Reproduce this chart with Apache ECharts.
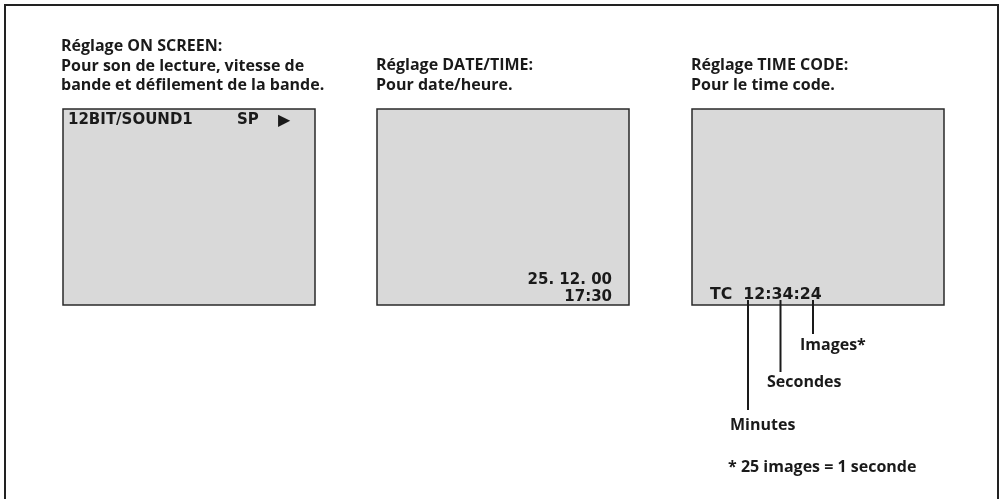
<!DOCTYPE html>
<html>
<head>
<meta charset="utf-8">
<script src="https://cdn.jsdelivr.net/npm/echarts@6/dist/echarts.min.js"></script>
<style>
  html, body { margin: 0; padding: 0; background: #fff; }
  #chart { width: 1003px; height: 499px; }
</style>
</head>
<body>
<div id="chart"></div>
<script>
// textes du schéma
const titleOnScreen = ['Réglage ON SCREEN:', 'Pour son de lecture, vitesse de', 'bande et défilement de la bande.']
const titleDateTime = ['Réglage DATE/TIME:', 'Pour date/heure.']
const titleTimeCode = ['Réglage TIME CODE:', 'Pour le time code.']
const osdOnScreen = ['12BIT/SOUND1', 'SP', '▶']
const osdDateTime = ['25. 12. 00', '17:30']
const osdTimeCode = ['TC  12:34:24']
const leaderLabels = ['Images*', 'Secondes', 'Minutes']
const footnote = ['* 25 images = 1 seconde']

const INK = '#1a1a1a'
const titleFont = { fontFamily: 'Open Sans', fontWeight: 'bold', fontSize: 16 }
const osdFont = { fontFamily: 'DejaVu Sans', fontWeight: 'bold', fontSize: 15 }

function label(text, x, y, font, align, extra) {
  return Object.assign({
    type: 'text',
    x: x,
    y: y,
    style: Object.assign({ text: text, fill: INK, verticalAlign: 'middle', align: align || 'left' }, font)
  }, extra || {})
}

function screen(x) {
  return {
    type: 'rect',
    shape: { x: x, y: 109, width: 252, height: 196 },
    style: { fill: '#d9d9d9', stroke: '#2a2a2a', lineWidth: 1.5 }
  }
}

function leader(x, y2) {
  return {
    type: 'line',
    shape: { x1: x, y1: 300, x2: x, y2: y2 },
    style: { stroke: INK, lineWidth: 2 }
  }
}

const elements = [
  // cadre
  {
    type: 'rect',
    shape: { x: 5, y: 5, width: 993, height: 500 },
    style: { fill: 'none', stroke: '#222', lineWidth: 2 }
  },
  screen(63),
  screen(377),
  screen(692),

  // titres
  label(titleOnScreen[0], 61, 46.5, titleFont),
  label(titleOnScreen[1], 61, 66.3, titleFont),
  label(titleOnScreen[2], 61, 85.8, titleFont),
  label(titleDateTime[0], 376, 65.5, titleFont),
  label(titleDateTime[1], 376, 85, titleFont),
  label(titleTimeCode[0], 691, 65.5, titleFont),
  label(titleTimeCode[1], 691, 85, titleFont),

  // affichages
  label(osdOnScreen[0], 68, 120.5, osdFont),
  label(osdOnScreen[1], 237, 120.5, osdFont),
  label(osdOnScreen[2], 278, 120.5, { fontFamily: 'DejaVu Sans', fontSize: 16 }),
  label(osdDateTime[0], 612, 280.5, osdFont, 'right'),
  label(osdDateTime[1], 612, 296.8, osdFont, 'right'),
  label(osdTimeCode[0], 710, 295.5, osdFont, 'left', { scaleX: 1.05 }),

  // repères du time code
  leader(748, 410),
  leader(780.5, 372),
  leader(813, 334),
  label(leaderLabels[0], 800, 345.7, titleFont),
  label(leaderLabels[1], 767, 382.3, titleFont),
  label(leaderLabels[2], 730, 425.7, titleFont),
  label(footnote[0], 728, 467.3, titleFont)
]

const myChart = echarts.init(document.getElementById('chart'))
const option = {
  backgroundColor: '#fff',
  animation: false,
  graphic: { elements: elements }
}
option && myChart.setOption(option)
</script>
</body>
</html>
